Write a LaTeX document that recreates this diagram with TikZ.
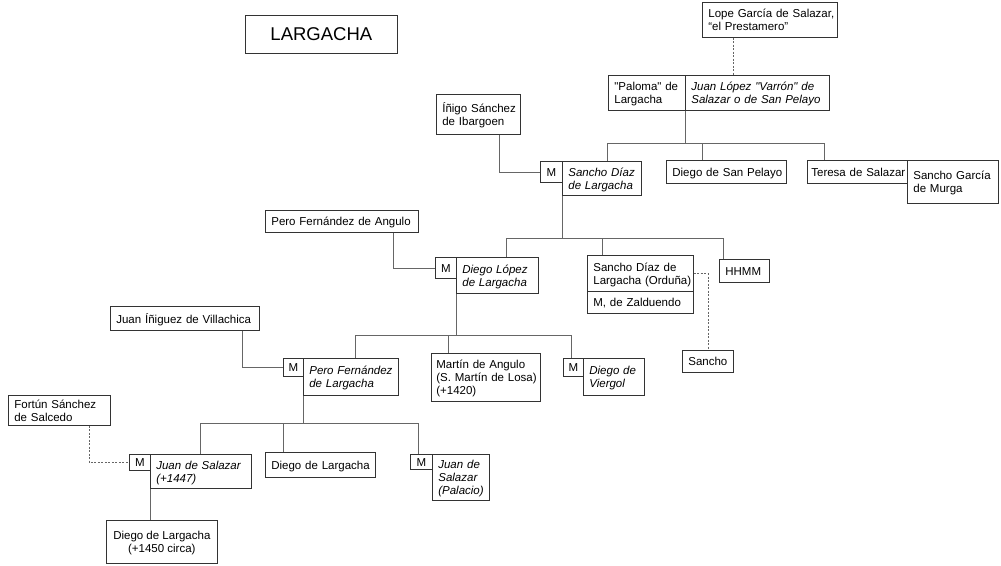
\documentclass[tikz,border=0pt]{standalone}
\usepackage{fontspec}
\setmainfont{Liberation Sans}[Ligatures=TeXOff]
\usetikzlibrary{calc}

\tikzset{
  box/.style={draw=black!80, line width=0.7pt, fill=white, anchor=north west,
    inner xsep=6pt, inner ysep=1pt, align=left,
    font=\fontsize{11.5}{13}\selectfont},
  cbox/.style={box, align=center, inner xsep=0pt},
  it/.style={font=\fontsize{11.5}{13}\selectfont\itshape},
  link/.style={draw=black!60, line width=0.7pt},
  dlink/.style={link, dash pattern=on 2pt off 1.5pt},
}

% lines of a box, set a little lower than their strut box
\newcommand\boxlines[2]{\raisebox{-1.8pt}[\height][\depth]{\begin{tabular}{@{}#1@{}}#2\end{tabular}}}
% person box with left-aligned lines: [style]{name}{x1}{y1}{x2}{y2}{lines}
\newcommand\famnode[7][]{%
  \pgfmathsetmacro\fnW{#5-#3-12}%
  \pgfmathsetmacro\fnH{#6-#4}%
  \node[box,text width=\fnW pt,minimum height=\fnH pt,#1] (#2) at (#3,#4)
    {\boxlines{l}{#7}};}
% box with centred lines
\newcommand\ctrnode[7][]{%
  \pgfmathsetmacro\fnW{#5-#3}%
  \pgfmathsetmacro\fnH{#6-#4}%
  \node[cbox,minimum width=\fnW pt,minimum height=\fnH pt,#1] (#2) at (#3,#4)
    {\boxlines{c}{#7}};}

\begin{document}
\begin{tikzpicture}[x=1pt,y=-1pt]
\fill[white] (0,0) rectangle (1001,565);
\useasboundingbox (0,0) rectangle (1001,565);

% title
\ctrnode[font=\fontsize{18.5}{20}\selectfont]{title}{245}{15}{397}{53}{LARGACHA}

% generation 1
\famnode{lope}{702}{2}{837}{37}{Lope García de Salazar,\\“el Prestamero”}
\famnode{paloma}{608}{75}{685}{110}{"Paloma" de\\Largacha}
\famnode[it]{juanlopez}{685}{75}{829}{110}{Juan López "Varrón" de\\Salazar o de San Pelayo}

% generation 2
\famnode{inigo}{436}{94}{520}{134}{Íñigo Sánchez\\de Ibargoen}
\ctrnode{m1}{540}{161}{562}{182}{M}
\famnode[it]{sancho}{562}{161}{641}{195}{Sancho Díaz\\de Largacha}
\famnode{sanpelayo}{666}{160}{786}{183}{Diego de San Pelayo}
\famnode[inner xsep=4pt,text width=92pt]{teresa}{807}{160}{907}{183}{Teresa de Salazar}
\famnode{murga}{907}{160}{998}{203}{Sancho García\\de Murga}

% generation 3
\famnode{pero1}{265}{210}{418}{232}{Pero Fernández de Angulo}
\ctrnode{m2}{435}{257}{456}{278}{M}
\famnode[it]{diegolopez}{456}{257}{538}{293}{Diego López\\de Largacha}
\famnode{orduna}{587}{255}{693}{291}{Sancho Díaz de\\Largacha (Orduña)}
\famnode{zalduendo}{587}{291}{693}{313}{M, de Zalduendo}
\famnode{hhmm}{719}{259}{769}{282}{HHMM}
\famnode{sancho2}{682}{350}{733}{372}{Sancho}

% generation 4
\famnode{juanin}{110}{306}{259}{330}{Juan Íñiguez de Villachica}
\ctrnode{m3}{283}{358}{303}{376}{M}
\famnode[it]{pero2}{303}{358}{398}{395}{Pero Fernández\\de Largacha}
\famnode[inner xsep=5pt,text width=99pt]{martin}{431}{353}{540}{401}{Martín de Angulo\\(S. Martín de Losa)\\(+1420)}
\ctrnode{m4}{563}{358}{583}{376}{M}
\famnode[it]{viergol}{583}{358}{644}{395}{Diego de\\Viergol}

% generation 5
\famnode{fortun}{8}{395}{110}{425}{Fortún Sánchez\\de Salcedo}
\ctrnode{m5}{129}{454}{150}{470}{M}
\famnode[it]{juansal}{150}{454}{251}{488}{Juan de Salazar\\(+1447)}
\famnode{diegolarg}{265}{452}{375}{477}{Diego de Largacha}
\ctrnode{m6}{410}{454}{432}{469}{M}
\famnode[it]{palacio}{432}{454}{489}{500}{Juan de\\Salazar\\(Palacio)}

% generation 6
\ctrnode{d1450}{106}{520}{217}{563}{Diego de Largacha\\(+1450 circa)}

% descent lines
\draw[dlink] ([xshift=31pt]lope.south west) -- ([xshift=31pt]lope.south west |- juanlopez.north);

\draw[link] (paloma.south east) -- ++(0,33) coordinate (j1);
\draw[link] ([xshift=45pt]sancho.north west) |- (j1) -| ([xshift=17pt]teresa.north west);
\draw[link] ([xshift=36pt]sanpelayo.north west) -- ([xshift=36pt]sanpelayo.north west |- j1);
\draw[link] ([xshift=63pt]inigo.south west) |- (m1.west);

\draw[link] (sancho.south west) -- ++(0,43) coordinate (j2);
\draw[link] ([xshift=50pt]diegolopez.north west) |- (j2) -| ([xshift=4pt]hhmm.north west);
\draw[link] ([xshift=15pt]orduna.north west) -- ([xshift=15pt]orduna.north west |- j2);
\draw[link] ([xshift=128pt]pero1.south west) |- (m2.west);
\draw[dlink] (orduna.east) -| (sancho2.north);

\draw[link] (diegolopez.south west) -- ++(0,42) coordinate (j3);
\draw[link] ([xshift=52pt]pero2.north west) |- (j3) -| ([xshift=8pt]m4.north west);
\draw[link] ([xshift=17pt]martin.north west) -- ([xshift=17pt]martin.north west |- j3);
\draw[link] ([xshift=132pt]juanin.south west) |- (m3.west);

\draw[link] (pero2.south west) -- ++(0,28) coordinate (j4);
\draw[link] ([xshift=50pt]juansal.north west) |- (j4) -| ([xshift=8pt]m6.north west);
\draw[link] ([xshift=18pt]diegolarg.north west) -- ([xshift=18pt]diegolarg.north west |- j4);
\draw[dlink] ([xshift=81pt]fortun.south west) |- (m5.west);

\draw[link] (juansal.south west) -- (juansal.south west |- d1450.north);
\end{tikzpicture}
\end{document}
